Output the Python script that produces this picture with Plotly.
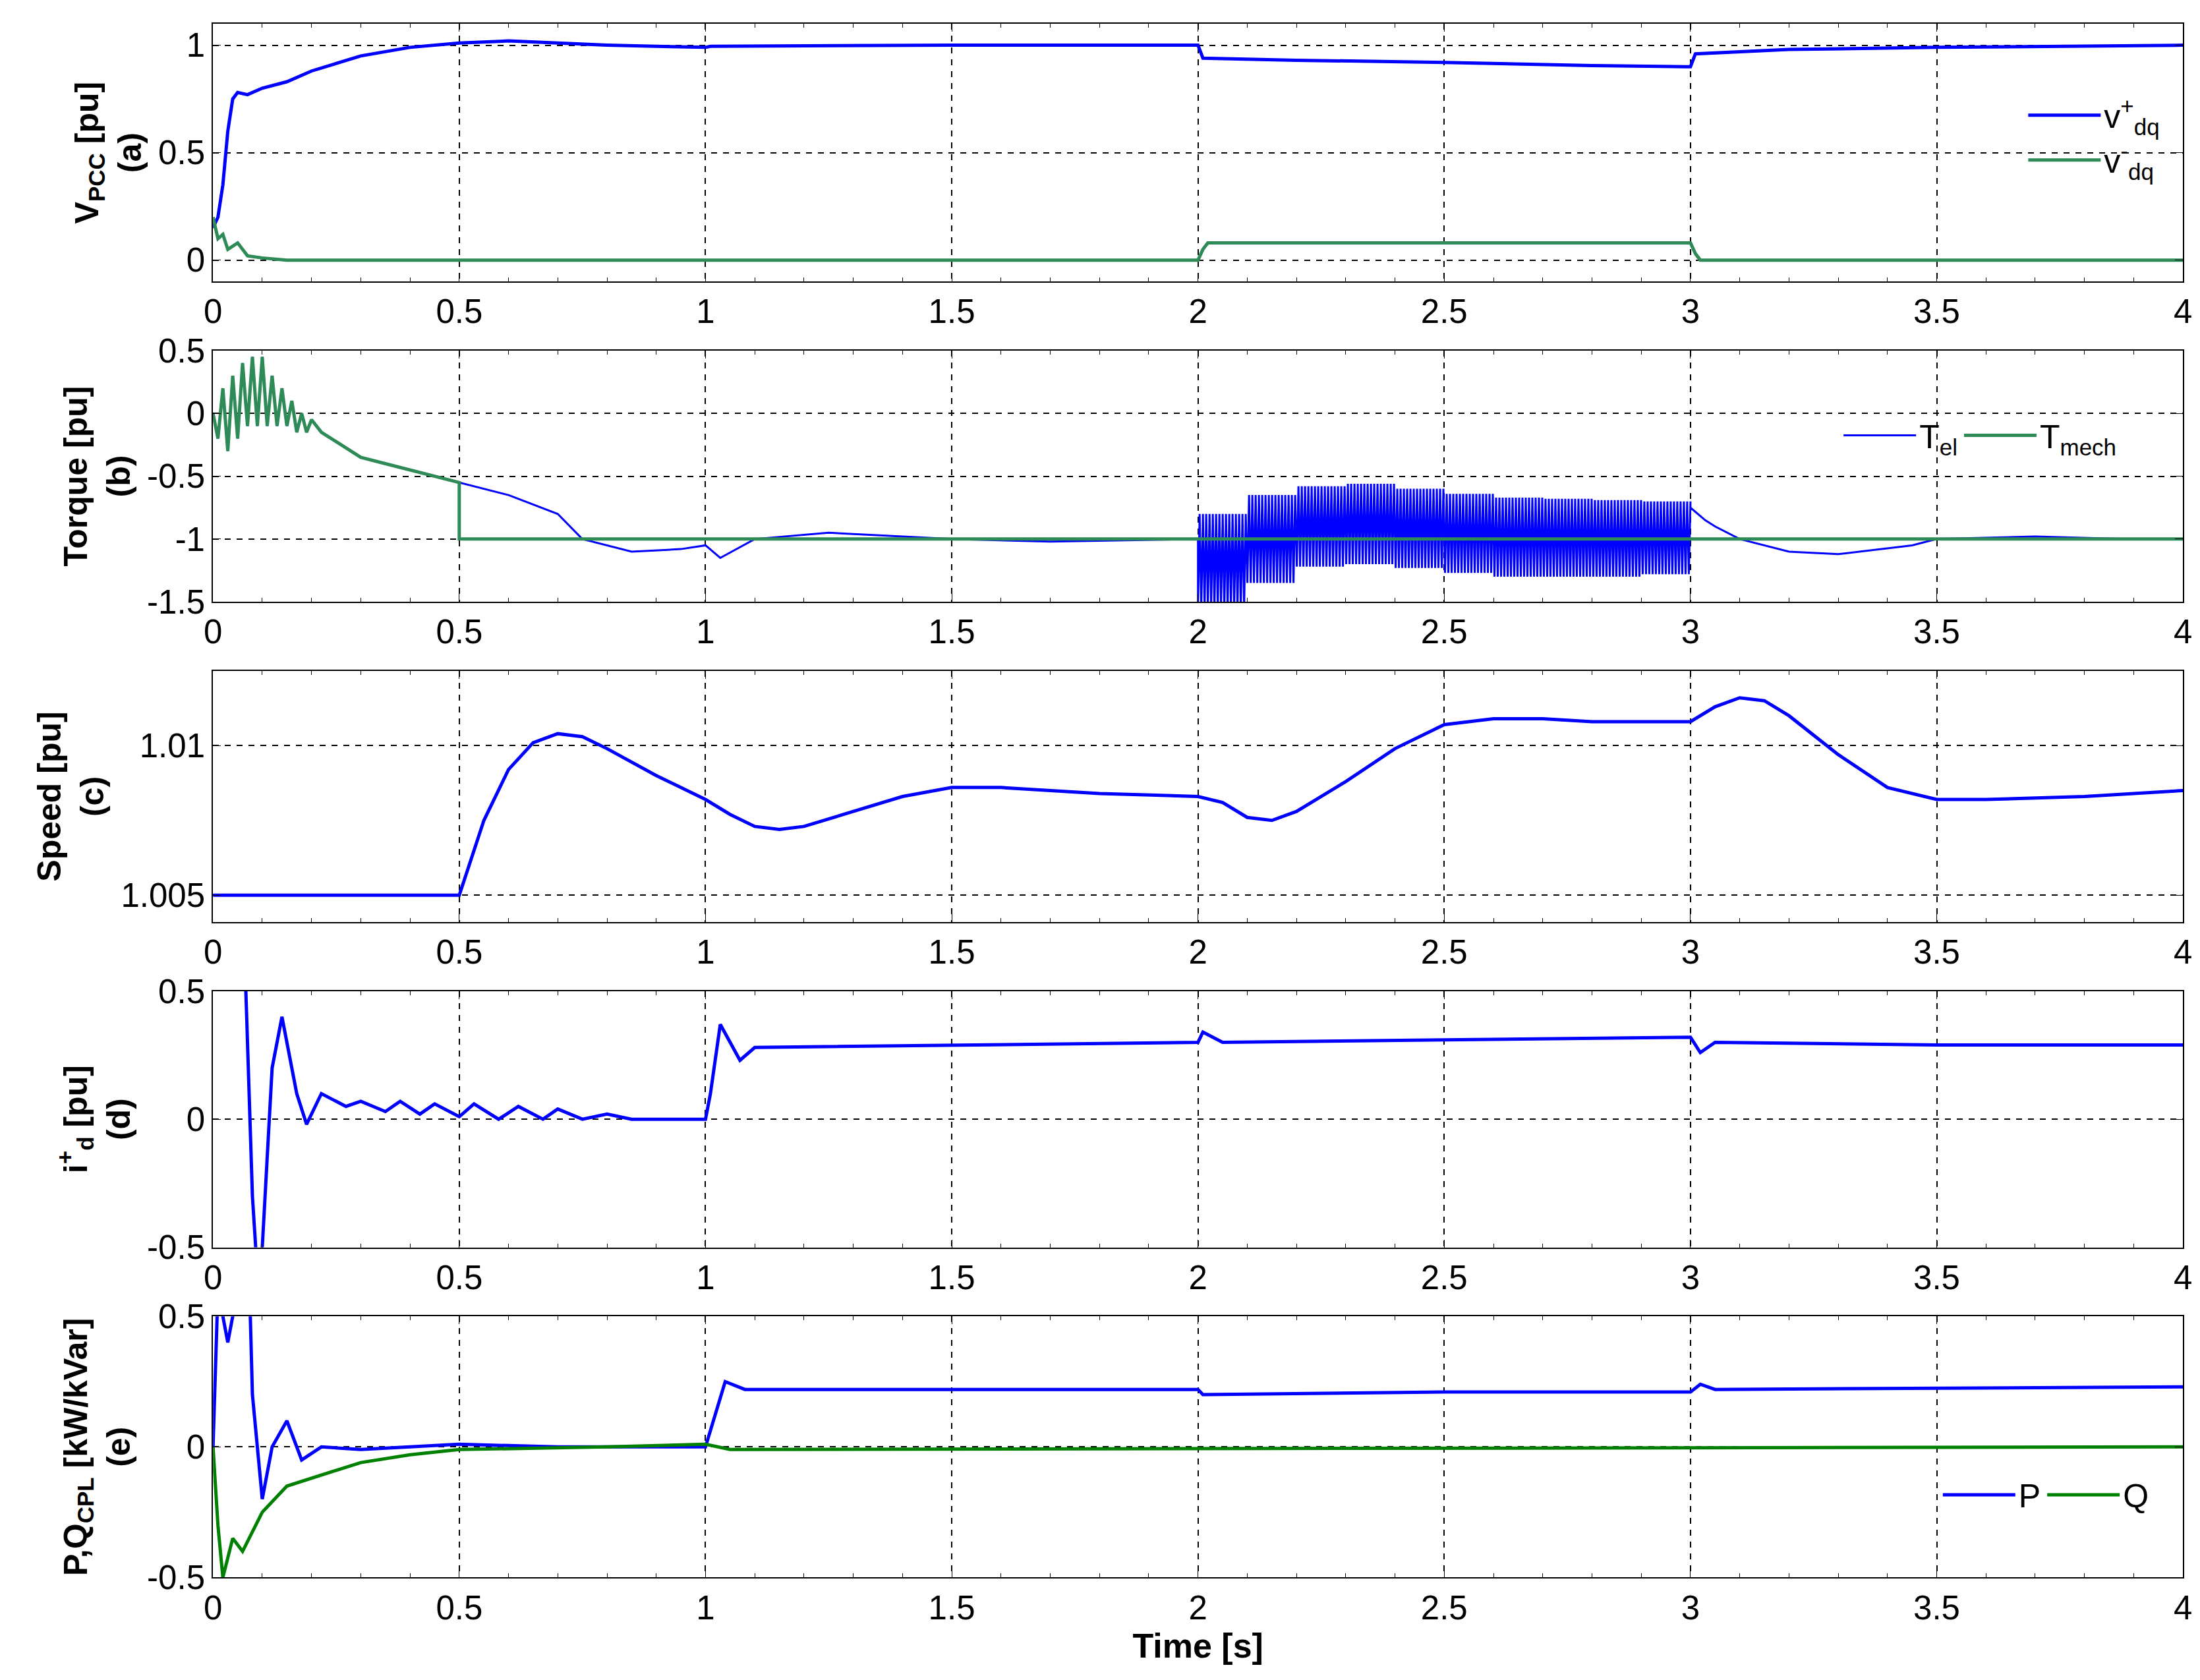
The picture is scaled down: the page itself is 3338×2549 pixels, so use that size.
import numpy as np
import plotly.graph_objects as go

BLUE = "#0000FF"; GREEN = "#2E8B57"; GREEN2 = "#008000"

ta = [0,0.01,0.02,0.03,0.04,0.05,0.07,0.1,0.15,0.2,0.3,0.4,0.5,0.6,0.7,0.8,0.9,1.0,1.01,1.5,1.99,2.0,2.01,2.2,2.5,2.8,2.99,3.0,3.01,3.2,3.5,4.0]
vpos = [0.15,0.2,0.35,0.6,0.75,0.78,0.77,0.8,0.83,0.88,0.95,0.99,1.01,1.02,1.01,1.0,0.995,0.99,0.995,1.0,1.0,1.0,0.94,0.93,0.92,0.905,0.9,0.9,0.96,0.98,0.99,1.0]
tneg = [0,0.01,0.02,0.03,0.05,0.07,0.1,0.15,2.0,2.01,2.02,3.0,3.01,3.02,4]
vneg = [0.2,0.1,0.12,0.05,0.08,0.02,0.01,0,0,0.05,0.08,0.08,0.03,0,0]

tb0 = [0,0.01,0.02,0.03,0.04,0.05,0.06,0.07,0.08,0.09,0.1,0.11,0.12,0.13,0.14,0.15,0.16,0.17,0.18,0.19,0.2,0.22,0.24,0.26,0.28,0.3,0.35,0.4,0.45,0.5]
tel0 = [0,-0.2,0.2,-0.3,0.3,-0.2,0.4,-0.1,0.45,-0.1,0.45,-0.1,0.3,-0.1,0.2,-0.1,0.1,-0.15,0.0,-0.15,-0.05,-0.15,-0.2,-0.25,-0.3,-0.35,-0.4,-0.45,-0.5,-0.55]
tb1 = [0.5,0.6,0.7,0.75,0.85,0.95,1.0,1.03,1.1,1.25,1.5,1.7,2.0]
tel1 = [-0.55,-0.65,-0.8,-1.0,-1.1,-1.08,-1.05,-1.15,-1.0,-0.95,-1.0,-1.02,-1.0]
env_up = [-0.8,-0.65,-0.58,-0.56,-0.6,-0.64,-0.67,-0.68,-0.69,-0.7,-0.7]
env_lo = [-1.55,-1.35,-1.22,-1.2,-1.23,-1.27,-1.3,-1.3,-1.3,-1.28,-1.25]
tb3 = [3.0,3.03,3.05,3.1,3.2,3.3,3.45,3.5,3.7,3.88]
tel3 = [-0.75,-0.85,-0.9,-1.0,-1.1,-1.12,-1.05,-1.0,-0.98,-1.0]
tmech_t = [0.5,0.5,4.0]
tmech_v = [-0.55,-1.0,-1.0]

tc = [0,0.5,0.55,0.6,0.65,0.7,0.75,0.8,0.9,1.0,1.05,1.1,1.15,1.2,1.3,1.4,1.5,1.6,1.8,2.0,2.05,2.1,2.15,2.2,2.3,2.4,2.5,2.6,2.7,2.8,3.0,3.05,3.1,3.15,3.2,3.3,3.4,3.5,3.6,3.8,4.0]
spd = [1.005,1.005,1.0075,1.0092,1.0101,1.0104,1.0103,1.0099,1.009,1.0082,1.0077,1.0073,1.0072,1.0073,1.0078,1.0083,1.0086,1.0086,1.0084,1.0083,1.0081,1.0076,1.0075,1.0078,1.0088,1.0099,1.0107,1.0109,1.0109,1.0108,1.0108,1.0113,1.0116,1.0115,1.011,1.0097,1.0086,1.0082,1.0082,1.0083,1.0085]

td = [0.065,0.07,0.08,0.09,0.1,0.12,0.14,0.17,0.19,0.22,0.27,0.3,0.35,0.38,0.42,0.45,0.5,0.53,0.58,0.62,0.67,0.7,0.75,0.8,0.85,1.0,1.01,1.03,1.07,1.1,1.5,2.0,2.01,2.05,2.5,3.0,3.02,3.05,3.5,4.0]
idp = [0.6,0.3,-0.3,-0.6,-0.5,0.2,0.4,0.1,-0.02,0.1,0.05,0.07,0.03,0.07,0.02,0.06,0.01,0.06,0.0,0.05,0.0,0.04,0.0,0.02,0.0,0.0,0.1,0.37,0.23,0.28,0.29,0.3,0.34,0.3,0.31,0.32,0.26,0.3,0.29,0.29]

te = [0,0.01,0.03,0.05,0.07,0.08,0.1,0.12,0.15,0.18,0.22,0.3,0.4,0.5,0.7,1.0,1.04,1.08,2.0,2.01,2.5,3.0,3.02,3.05,4.0]
P = [0.0,0.6,0.4,0.6,0.9,0.2,-0.2,0.0,0.1,-0.05,0.0,-0.01,0.0,0.01,0.0,0.0,0.25,0.22,0.22,0.2,0.21,0.21,0.24,0.22,0.23]
teq = [0,0.01,0.02,0.04,0.06,0.1,0.15,0.2,0.3,0.4,0.5,0.8,1.0,1.05,4.0]
Q = [0.0,-0.3,-0.5,-0.35,-0.4,-0.25,-0.15,-0.12,-0.06,-0.03,-0.01,0.0,0.01,-0.01,0.0]

# dense oscillation 2-3 s built from the envelope lists (stepwise, one value per 0.1 s)
nper = 15
up = np.repeat(env_up, nper)[:150]; lo = np.repeat(env_lo, nper)[:150]
osc_t = np.linspace(2.0, 3.0, 300)
osc_v = np.empty(300); osc_v[0::2] = lo; osc_v[1::2] = up
tel_t = list(tb0) + tb1 + list(osc_t) + tb3
tel_v = list(tel0) + tel1 + list(osc_v) + tel3

fig = go.Figure()
doms = [(0.843,1.0),(0.648,0.801),(0.453,0.606),(0.255,0.411),(0.054,0.213)]
def add(x, y, c, name, i, leg, lg, w=5):
    fig.add_trace(go.Scatter(x=x, y=y, mode="lines", line=dict(color=c, width=w), name=name,
                             xaxis="x" if i == 0 else f"x{i+1}", yaxis="y" if i == 0 else f"y{i+1}",
                             showlegend=leg, legend=lg))
add(ta, vpos, BLUE, "v<sup>+</sup><sub>dq</sub>", 0, True, "legend")
add(tneg, vneg, GREEN, "v<sup>-</sup><sub>dq</sub>", 0, True, "legend")
add(tel_t, tel_v, BLUE, "T<sub>el</sub>", 1, True, "legend2", 3)
add(list(tb0)+tmech_t, list(tel0)+tmech_v, GREEN, "T<sub>mech</sub>", 1, True, "legend2")
add(tc, spd, BLUE, "speed", 2, False, None)
add(td, idp, BLUE, "id", 3, False, None)
add(te, P, BLUE, "P", 4, True, "legend3")
add(teq, Q, GREEN2, "Q", 4, True, "legend3")

F = "Liberation Sans"
titles = ["<b>V<sub>PCC</sub> [pu]<br>(a)</b>", "<b>Torque [pu]<br>(b)</b>", "<b>Speed [pu]<br>(c)</b>",
          "<b>i<sup>+</sup><sub>d</sub> [pu]<br>(d)</b>", "<b>P,Q<sub>CPL</sub> [kW/kVar]<br>(e)</b>"]
yr = [(-0.1,1.1),(-1.5,0.5),(1.0041,1.0125),(-0.5,0.5),(-0.5,0.5)]
ytv = [[0,0.5,1],[-1.5,-1,-0.5,0,0.5],[1.005,1.01],[-0.5,0,0.5],[-0.5,0,0.5]]
ytt = [["0","0.5","1"],["-1.5","-1","-0.5","0","0.5"],["1.005","1.01"],["-0.5","0","0.5"],["-0.5","0","0.5"]]
lay = {}
for i, d in enumerate(doms):
    s = "" if i == 0 else str(i+1)
    lay["xaxis"+s] = dict(domain=[0.091,0.994], anchor="y"+s, range=[0,4], tickvals=[0,0.5,1,1.5,2,2.5,3,3.5,4],
                          ticktext=["0","0.5","1","1.5","2","2.5","3","3.5","4"],
                          showline=True, mirror="ticks", linecolor="black", linewidth=2, ticks="inside", ticklen=12,
                          tickcolor="black", showgrid=True, gridcolor="black", griddash="dash", gridwidth=1.5,
                          zeroline=False, tickfont=dict(size=51, family=F, color="black"),
                          minor=dict(ticks="inside", ticklen=6, dtick=0.1, tickcolor="black", showgrid=False))
    lay["yaxis"+s] = dict(domain=list(d), anchor="x"+s, range=list(yr[i]), tickvals=ytv[i], ticktext=ytt[i],
                          showline=True, mirror="ticks", linecolor="black", linewidth=2, ticks="inside", ticklen=12,
                          tickcolor="black", showgrid=True, gridcolor="black", griddash="dash", gridwidth=1.5,
                          zeroline=False, tickfont=dict(size=51, family=F, color="black"),
                          title=dict(text=titles[i], font=dict(size=50, family=F, color="black"), standoff=10))
lay["xaxis5"]["title"] = dict(text="<b>Time [s]</b>", font=dict(size=52, family=F, color="black"), standoff=5)
fig.update_layout(**lay)
lf = dict(size=50, family=F, color="black")
fig.update_layout(width=3338, height=2549, margin=dict(l=0, r=0, t=0, b=0), plot_bgcolor="white", paper_bgcolor="white",
                  font=dict(family=F, color="black"),
                  legend=dict(x=0.985, y=0.96, xanchor="right", yanchor="top", font=lf, itemwidth=110, bgcolor="rgba(0,0,0,0)"),
                  legend2=dict(x=0.965, y=0.765, xanchor="right", yanchor="top", orientation="h", font=lf, itemwidth=110, bgcolor="rgba(0,0,0,0)"),
                  legend3=dict(x=0.98, y=0.12, xanchor="right", yanchor="top", orientation="h", font=lf, itemwidth=110, bgcolor="rgba(0,0,0,0)"))
fig.write_html("out.html")
